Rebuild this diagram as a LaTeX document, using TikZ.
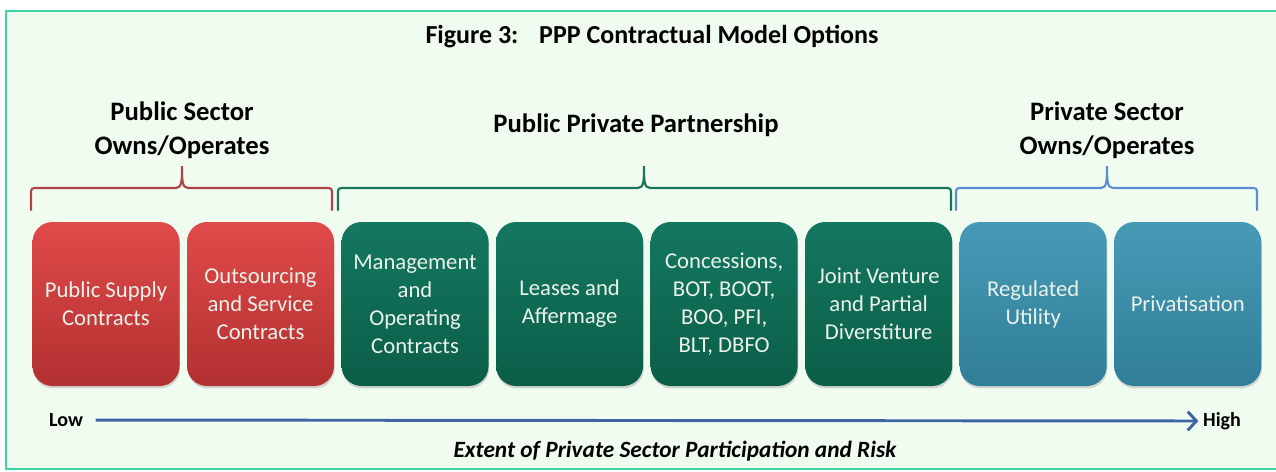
\documentclass[tikz,border=0pt]{standalone}
\usepackage{fontspec}
\setmainfont{Carlito}
\usepackage{tikz}
\usetikzlibrary{arrows,arrows.meta,positioning,shadows,calc}

\definecolor{framefill}{HTML}{F1FCF1}
\definecolor{framedraw}{HTML}{3ED6A8}
\definecolor{redtop}{HTML}{E04A4A}
\definecolor{redbot}{HTML}{B23030}
\definecolor{greentop}{HTML}{147760}
\definecolor{greenbot}{HTML}{0B5E48}
\definecolor{bluetop}{HTML}{479AB6}
\definecolor{bluebot}{HTML}{307E98}
\definecolor{boxtext}{HTML}{EAF2EA}
\definecolor{redbr}{HTML}{B04444}
\definecolor{greenbr}{HTML}{1A7458}
\definecolor{bluebr}{HTML}{5A8ED2}
\definecolor{arrowblue}{HTML}{3F64A3}

\tikzset{
  blk/.style={rounded corners=15pt, minimum width=110.25pt, minimum height=123pt,
    align=center, text=boxtext, font=\fontsize{17}{21}\selectfont, inner sep=1pt,
    drop shadow={opacity=0.3,shadow xshift=0.5pt,shadow yshift=-1.8pt}},
  redblk/.style={blk, top color=redtop, bottom color=redbot},
  greenblk/.style={blk, top color=greentop, bottom color=greenbot},
  blueblk/.style={blk, top color=bluetop, bottom color=bluebot},
  head/.style={font=\bfseries\fontsize{20}{25.5}\selectfont, align=center},
  brkt/.style={line width=1.6pt, line cap=round},
  endlbl/.style={font=\bfseries\fontsize{15}{18}\selectfont},
}

\begin{document}
\begin{tikzpicture}[x=0.75pt,y=-0.75pt,>={Straight Barb[length=6.5pt,width=14pt]}]
\useasboundingbox (0,0) rectangle (1276,471);
\clip (0,0) rectangle (1276,471);
\draw[draw=framedraw, fill=framefill, line width=1.5pt] (6,11) rectangle (1300,469);
\node[font=\bfseries\fontsize{19.5}{22}\selectfont] (title) at (652,37)
  {Figure 3:\hspace{0.8em}PPP Contractual Model Options};

% headings
\node[head] (pubh) at (182,130) {Public Sector\\Owns/Operates};
\node[head] (ppph) at (636,125) {Public Private Partnership};
\node[head] (prih) at (1107,130) {Private Sector\\Owns/Operates};

% brackets
\draw[brkt, redbr] (31,210) -- (31,195) .. controls (31,188) .. (38,188)
  -- (176,188) .. controls (182,188) and (182,180) .. (182,166)
  .. controls (182,180) and (182,188) .. (188,188)
  -- (325,188) .. controls (332,188) .. (332,195) -- (332,210);
\draw[brkt, greenbr] (338,210) -- (338,195) .. controls (338,188) .. (345,188)
  -- (638,188) .. controls (644,188) and (644,180) .. (644,166)
  .. controls (644,180) and (644,188) .. (650,188)
  -- (944,188) .. controls (951,188) .. (951,195) -- (951,210);
\draw[brkt, bluebr] (956,210) -- (956,195) .. controls (956,188) .. (963,188)
  -- (1101,188) .. controls (1107,188) and (1107,180) .. (1107,166)
  .. controls (1107,180) and (1107,188) .. (1113,188)
  -- (1250,188) .. controls (1257,188) .. (1257,195) -- (1257,210);

% boxes
\node[redblk] (psc) at (106,304) {Public Supply\\Contracts};
\node[redblk, right=5.25pt of psc] (osc) {Outsourcing\\and Service\\Contracts};
\node[greenblk, right=5.25pt of osc] (moc) {Management\\and\\Operating\\Contracts};
\node[greenblk, right=5.25pt of moc] (laf) {Leases and\\Affermage};
\node[greenblk, right=5.25pt of laf] (con) {Concessions,\\BOT, BOOT,\\BOO, PFI,\\BLT, DBFO};
\node[greenblk, right=5.25pt of con] (jvp) {Joint Venture\\and Partial\\Diverstiture};
\node[blueblk, right=5.25pt of jvp] (reg) {Regulated\\Utility};
\node[blueblk, right=5.25pt of reg] (pri) {Privatisation};

% scale
\node[endlbl] (low) at (66,420) {Low};
\node[endlbl] (high) at (1222,421) {High};
\draw[->, arrowblue, line width=2.2pt, shorten <=6pt] (low) -- (high);
\node[font=\bfseries\itshape\fontsize{17.5}{20}\selectfont] (ext) at (675,451)
  {Extent of Private Sector Participation and Risk};
\end{tikzpicture}
\end{document}
